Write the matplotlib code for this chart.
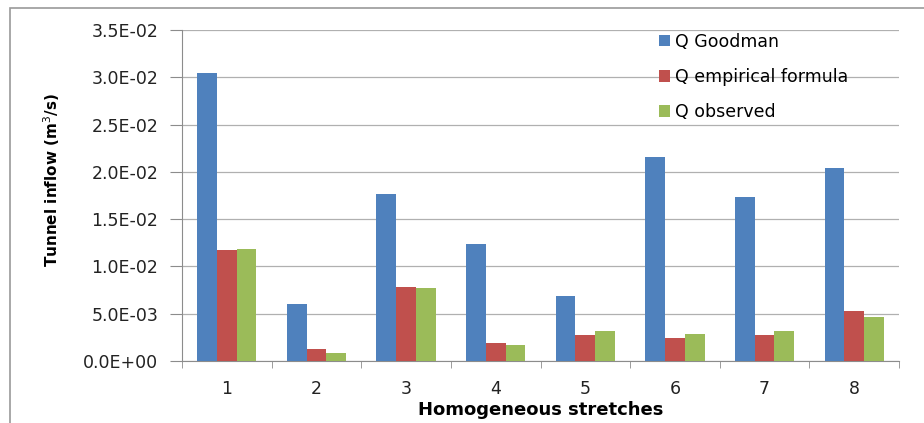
import numpy as np
import matplotlib
matplotlib.use('Agg')
from matplotlib import pyplot as plt
from matplotlib.patches import Rectangle
from matplotlib.ticker import MultipleLocator, FuncFormatter

stretches = ['1', '2', '3', '4', '5', '6', '7', '8']
q_goodman = [0.0305, 0.0060, 0.0177, 0.0124, 0.0069, 0.0216, 0.0173, 0.0204]
q_empirical = [0.0117, 0.00127, 0.0078, 0.00187, 0.0028, 0.0024, 0.0028, 0.00525]
q_observed = [0.0118, 0.00088, 0.00768, 0.00173, 0.0032, 0.0029, 0.0032, 0.0047]

series = [
    ('Q Goodman', q_goodman, '#4F81BD'),
    ('Q empirical formula', q_empirical, '#C0504D'),
    ('Q observed', q_observed, '#9BBB59'),
]

plt.rcParams['font.family'] = ['DejaVu Sans']

fig = plt.figure(figsize=(9.24, 4.23), dpi=100)
fig.patches.append(Rectangle((10 / 924, -0.1), 1.2, 1 - 8 / 423 + 0.1,
                             transform=fig.transFigure, fill=False,
                             edgecolor='#9a9a9a', linewidth=1.2))
ax = fig.add_axes([182 / 924, 1 - 361 / 423, (899 - 182) / 924, (361 - 30) / 423])

x = np.arange(len(stretches))
w = 0.22
for i, (name, vals, col) in enumerate(series):
    ax.bar(x + (i - 1) * w, vals, width=w, color=col, label=name, zorder=3)

ax.set_xlim(-0.5, len(stretches) - 0.5)
ax.set_ylim(0, 0.035)
ax.yaxis.set_major_locator(MultipleLocator(0.005))
ax.yaxis.set_major_formatter(FuncFormatter(
    lambda v, p: '%.1E' % v if v > 0 else '0.0E+00'))
ax.set_xticks(x)
ax.set_xticklabels(stretches)
ax.set_xticks(np.arange(-0.5, len(stretches)), minor=True)
ax.tick_params(axis='x', which='major', length=0, pad=14, labelsize=12.5, labelcolor='#222222')
ax.tick_params(axis='x', which='minor', length=5, color='#8c8c8c', direction='out')
ax.tick_params(axis='y', length=9, color='#8c8c8c', pad=8, labelsize=12.5, labelcolor='#222222')
ax.grid(axis='y', color='#b0b0b0', linewidth=0.9, zorder=0)
for s in ['top', 'right']:
    ax.spines[s].set_visible(False)
ax.spines['left'].set_color('#8c8c8c')
ax.spines['bottom'].set_color('#8c8c8c')

ax.set_ylabel('Tunnel inflow (m$^3$/s)', fontsize=11, fontweight='bold')
ax.yaxis.set_label_coords(-0.168, 0.547)
ax.set_xlabel('Homogeneous stretches', fontsize=13, fontweight='bold')
ax.xaxis.set_label_coords(0.5, -0.12)

ax.legend(loc='upper left', bbox_to_anchor=(643 / 924, 1 - 17 / 423),
          bbox_transform=fig.transFigure, frameon=False, fontsize=12.5,
          handlelength=0.65, handleheight=0.65, handletextpad=0.3, labelspacing=1.0)

fig.savefig('out.png', dpi=100)
